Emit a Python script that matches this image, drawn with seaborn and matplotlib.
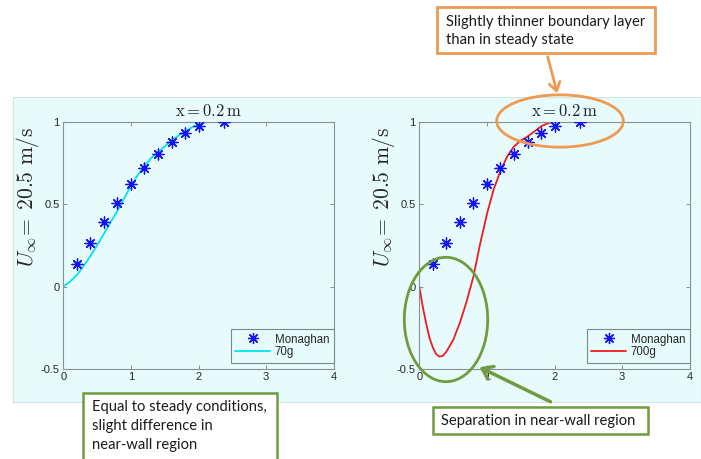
import numpy as np
import pandas as pd
import matplotlib
matplotlib.use("Agg")
import matplotlib.pyplot as plt
from matplotlib.patches import Rectangle, Ellipse, FancyArrowPatch
from matplotlib.lines import Line2D
import seaborn as sns

# Reference measurements (Monaghan)
monaghan_x = [0.2, 0.4, 0.6, 0.8, 1.0, 1.2, 1.4, 1.6, 1.8, 2.0, 2.37]
monaghan_u = [0.135, 0.262, 0.39, 0.509, 0.62, 0.717, 0.804, 0.877, 0.933, 0.974, 1.0]

# Simulated profile, 70g case
g70_x = [0.0, 0.1, 0.2, 0.3, 0.4, 0.5, 0.6, 0.7, 0.8, 0.9, 1.0, 1.1, 1.2,
         1.3, 1.4, 1.5, 1.6, 1.7, 1.8, 1.9, 2.0, 2.1, 2.2, 2.3]
g70_u = [0.0, 0.03, 0.07, 0.125, 0.185, 0.25, 0.32, 0.39, 0.46, 0.535, 0.61,
         0.675, 0.73, 0.78, 0.815, 0.85, 0.885, 0.915, 0.94, 0.965, 0.984,
         0.995, 1.0, 1.0]

# Simulated profile, 700g case (reverse flow near the wall)
g700_x = [0.0, 0.05, 0.1, 0.15, 0.2, 0.25, 0.3, 0.35, 0.4, 0.5, 0.6, 0.7, 0.8,
          0.9, 1.0, 1.1, 1.2, 1.3, 1.4, 1.5, 1.6, 1.7, 1.8, 1.9, 2.0]
g700_u = [0.0, -0.12, -0.22, -0.31, -0.37, -0.41, -0.425, -0.42, -0.395,
          -0.325, -0.22, -0.09, 0.06, 0.26, 0.44, 0.59, 0.7, 0.79, 0.85,
          0.885, 0.91, 0.94, 0.972, 0.99, 1.0]

x_ticks = [0, 1, 2, 3, 4]
y_ticks = [-0.5, 0, 0.5, 1]
y_tick_labels = ["-0.5", "0", "0.5", "1"]

sns.set_theme(style="ticks")
plt.rcParams["font.family"] = ["Liberation Sans", "DejaVu Sans"]
plt.rcParams["mathtext.fontset"] = "cm"

W, H = 701, 459
BG = "#e7fbfc"
ORANGE = "#ee9a52"
GREEN = "#6e9c3e"

fig = plt.figure(figsize=(W / 100, H / 100), dpi=100)
fig.patch.set_facecolor("white")


def fx(px):
    return px / W


def fy(py):
    return 1 - py / H


# light panel behind both plots
fig.patches.append(Rectangle((fx(13), fy(402)), fx(701 - 13), (402 - 97) / H,
                             transform=fig.transFigure, facecolor=BG,
                             edgecolor="#d3e3e8", lw=0.8, zorder=-5))

mon_df = pd.DataFrame({"y": monaghan_x, "u": monaghan_u})
panels = [
    (63.3, pd.DataFrame({"y": g70_x, "u": g70_u}), "#00e5ee", "70g"),
    (419.3, pd.DataFrame({"y": g700_x, "u": g700_u}), "#ee1c1c", "700g"),
]

star = (8, 2, 0)
for left, sim_df, col, lab in panels:
    ax = fig.add_axes([fx(left), fy(369), 270.5 / W, 247.3 / H])
    ax.set_zorder(1)
    ax.set_facecolor(BG)
    sns.lineplot(data=sim_df, x="y", y="u", ax=ax, color=col, lw=1.3,
                 legend=False, sort=False, estimator=None)
    sns.scatterplot(data=mon_df, x="y", y="u", ax=ax, marker=star, s=62,
                    color="#1414f0", edgecolor="#1414f0", linewidth=0.95,
                    legend=False, zorder=3)
    ax.set_xlim(0, 4)
    ax.set_ylim(-0.5, 1)
    ax.set_xticks(x_ticks)
    ax.set_xticklabels([str(t) for t in x_ticks])
    ax.set_yticks(y_ticks)
    ax.set_yticklabels(y_tick_labels)
    ax.tick_params(direction="in", length=3, width=0.7, top=True, right=True,
                   labelsize=8, colors="#8a8f94", labelcolor="#262626", pad=2.5)
    for s in ax.spines.values():
        s.set_color("#8a8f94")
        s.set_linewidth(0.8)
        s.set_visible(True)
    ax.set_xlabel("")
    ax.set_ylabel(r"$U_{\infty}\!=\;20.5\ \mathrm{m/s}$", fontsize=15.5,
                  color="#262626")
    ax.yaxis.set_label_coords(-0.083, 0.695)
    ax.text(0.537, 1.045, r"$\mathrm{x} = 0.2\,\mathrm{m}$", transform=ax.transAxes,
            ha="center", va="center", fontsize=12, color="#262626")
    handles = [
        Line2D([], [], ls="none", marker=star, color="#1414f0", ms=8, mew=0.95),
        Line2D([], [], color=col, lw=1.3),
    ]
    leg = ax.legend(handles, ["Monaghan", lab], loc="lower right",
                    bbox_to_anchor=(1.0, 0.024), borderaxespad=0,
                    fontsize=8.3, frameon=True, fancybox=False,
                    handlelength=3.0, handletextpad=0.4, borderpad=0.4,
                    labelspacing=0.08)
    leg.get_frame().set_facecolor(BG)
    leg.get_frame().set_edgecolor("#7d8790")
    leg.get_frame().set_linewidth(0.8)
    leg.get_frame().set_alpha(1)

note_font = dict(family=["Lato", "DejaVu Sans"], fontsize=10.6, color="#1a1a1a")

# orange note at the top
fig.patches.append(Rectangle((fx(437), fy(53)), (655 - 437) / W, (53 - 7) / H,
                             transform=fig.transFigure, facecolor="white",
                             edgecolor=ORANGE, lw=2, zorder=5))
fig.text(fx(446), fy(22), "Slightly thinner boundary layer", va="center",
         ha="left", zorder=6, **note_font)
fig.text(fx(446), fy(40), "than in steady state", va="center", ha="left",
         zorder=6, **note_font)
fig.patches.append(FancyArrowPatch((fx(547), fy(54)), (fx(558), fy(96)),
                                   transform=fig.transFigure,
                                   arrowstyle="->,head_length=6,head_width=4",
                                   color=ORANGE, lw=2, zorder=6))
fig.patches.append(Ellipse((fx(560), fy(121)), 126.6 / W, 52.3 / H,
                           transform=fig.transFigure, facecolor="none",
                           edgecolor=ORANGE, lw=2, zorder=6))

# green annotations at the bottom
fig.patches.append(Ellipse((fx(446), fy(319.5)), 83.4 / W, 124.4 / H,
                           transform=fig.transFigure, facecolor="none",
                           edgecolor=GREEN, lw=2, zorder=6))
fig.patches.append(FancyArrowPatch((fx(553), fy(403)), (fx(477), fy(366)),
                                   transform=fig.transFigure,
                                   arrowstyle="->,head_length=7,head_width=5",
                                   color=GREEN, lw=2.5, zorder=6))
fig.patches.append(Rectangle((fx(433), fy(434)), (648 - 433) / W, (434 - 407) / H,
                             transform=fig.transFigure, facecolor="white",
                             edgecolor=GREEN, lw=1.8, zorder=5))
fig.text(fx(441), fy(421.5), "Separation in near-wall region", va="center",
         ha="left", zorder=6, **note_font)

fig.patches.append(Rectangle((fx(83), fy(470)), (277 - 83) / W, (470 - 393) / H,
                             transform=fig.transFigure, facecolor="white",
                             edgecolor=GREEN, lw=1.8, zorder=5))
for i, line in enumerate(["Equal to steady conditions,", "slight difference in",
                          "near-wall region"]):
    fig.text(fx(92), fy(407 + 19 * i), line, va="center", ha="left", zorder=6,
             **note_font)

fig.savefig("out.png", dpi=100, facecolor="white")
